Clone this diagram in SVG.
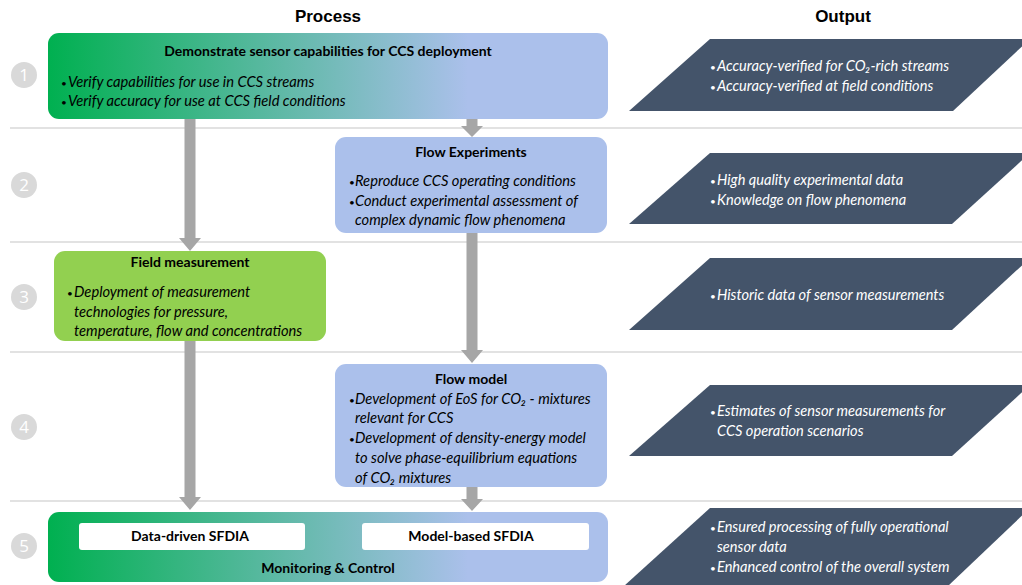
<svg xmlns="http://www.w3.org/2000/svg" width="1022" height="585" viewBox="0 0 1022 585">
<style>
.hdr{font-family:"Liberation Sans",Arial,sans-serif;font-weight:bold;font-size:17px;fill:#000;text-anchor:middle}
.ttl{font-family:Lato,"Liberation Sans",sans-serif;font-weight:bold;font-size:14px;fill:#000;text-anchor:middle}
.bl{font-family:Lato,"Liberation Sans",sans-serif;font-style:italic;font-size:14.7px;fill:#000}
.ob{font-family:Lato,"Liberation Sans",sans-serif;font-style:italic;font-size:14.6px;fill:#fff}
.dot{font-size:10px;font-style:normal}
.num{font-family:"Open Sans","Liberation Sans",sans-serif;font-size:17px;fill:#fff;text-anchor:middle}
.sep{stroke:#d9d9d9;stroke-width:1.5}
.circ{fill:#d9d9d9}
.out{fill:#44546a}
.arr{fill:#a6a6a6}
.inner{fill:#fff}
</style>
<defs>
<linearGradient id="g" x1="0" y1="0" x2="1" y2="0">
<stop offset="0" stop-color="#00b050"/>
<stop offset="0.75" stop-color="#abc0eb"/>
<stop offset="1" stop-color="#abc0eb"/>
</linearGradient>
</defs>
<rect width="1022" height="585" fill="#fff"/>
<g id="separators">
<line class="sep" x1="10" y1="128" x2="1022" y2="128"/>
<line class="sep" x1="10" y1="242" x2="1022" y2="242"/>
<line class="sep" x1="10" y1="352" x2="1022" y2="352"/>
<line class="sep" x1="10" y1="501" x2="1022" y2="501"/>
</g>
<text class="hdr" x="328" y="22">Process</text>
<text class="hdr" x="843" y="22">Output</text>
<g id="numbers">
<circle class="circ" cx="24" cy="75" r="13"/><text class="num" x="24" y="81">1</text>
<circle class="circ" cx="24" cy="185" r="13"/><text class="num" x="24" y="191">2</text>
<circle class="circ" cx="24" cy="297" r="13"/><text class="num" x="24" y="303">3</text>
<circle class="circ" cx="24" cy="427" r="13"/><text class="num" x="24" y="433">4</text>
<circle class="circ" cx="24" cy="546" r="13"/><text class="num" x="24" y="552">5</text>
</g>
<g id="connectors">
<polygon class="arr" points="184.5,119 195.5,119 195.5,238 201,238 190,251 179,238 184.5,238"/>
<polygon class="arr" points="466.5,119 477.5,119 477.5,126 483,126 472,137 461,126 466.5,126"/>
<polygon class="arr" points="466.5,233 477.5,233 477.5,350 483,350 472,363 461,350 466.5,350"/>
<polygon class="arr" points="184.5,341 195.5,341 195.5,497 201,497 190,510 179,497 184.5,497"/>
<polygon class="arr" points="466.5,487 477.5,487 477.5,499 483,499 472,511 461,499 466.5,499"/>
</g>
<g id="step1">
<rect x="48" y="33" width="560" height="86" rx="11" fill="url(#g)"/>
<text class="ttl" x="328" y="56">Demonstrate sensor capabilities for CCS deployment</text>
<text class="bl" y="87"><tspan class="dot" x="61">•</tspan><tspan x="68">Verify capabilities for use in CCS streams</tspan></text>
<text class="bl" y="106"><tspan class="dot" x="61">•</tspan><tspan x="68">Verify accuracy for use at CCS field conditions</tspan></text>
</g>
<g id="step2">
<rect x="335" y="137" width="272" height="96" rx="11" fill="#abc0eb"/>
<text class="ttl" x="471" y="157">Flow Experiments</text>
<text class="bl" y="186"><tspan class="dot" x="349">•</tspan><tspan x="355">Reproduce CCS operating conditions</tspan></text>
<text class="bl" y="206"><tspan class="dot" x="349">•</tspan><tspan x="355">Conduct experimental assessment of</tspan></text>
<text class="bl" x="355" y="225">complex dynamic flow phenomena</text>
</g>
<g id="step3">
<rect x="54" y="251" width="272" height="90" rx="11" fill="#92d050"/>
<text class="ttl" x="190" y="267">Field measurement</text>
<text class="bl" y="297"><tspan class="dot" x="67">•</tspan><tspan x="74">Deployment of measurement</tspan></text>
<text class="bl" x="74" y="317">technologies for pressure,</text>
<text class="bl" x="74" y="336">temperature, flow and concentrations</text>
</g>
<g id="step4">
<rect x="335" y="364" width="272" height="123" rx="11" fill="#abc0eb"/>
<text class="ttl" x="471" y="384">Flow model</text>
<text class="bl" y="404"><tspan class="dot" x="349">•</tspan><tspan x="355">Development of EoS for CO₂ - mixtures</tspan></text>
<text class="bl" x="355" y="423">relevant for CCS</text>
<text class="bl" y="443"><tspan class="dot" x="349">•</tspan><tspan x="355">Development of density-energy model</tspan></text>
<text class="bl" x="355" y="463">to solve phase-equilibrium equations</text>
<text class="bl" x="355" y="483">of CO₂ mixtures</text>
</g>
<g id="step5">
<rect x="48" y="512" width="560" height="70" rx="11" fill="url(#g)"/>
<rect class="inner" x="79" y="523" width="226" height="27" rx="3"/>
<rect class="inner" x="362" y="523" width="227" height="27" rx="3"/>
<text class="ttl" x="190" y="541">Data-driven SFDIA</text>
<text class="ttl" x="471" y="541">Model-based SFDIA</text>
<text class="ttl" x="328" y="573">Monitoring &amp; Control</text>
</g>
<g id="output1">
<polygon class="out" points="710,39 1030,39 953,111 629,111"/>
<text class="ob" y="71"><tspan class="dot" x="710">•</tspan><tspan x="717">Accuracy-verified for CO₂-rich streams</tspan></text>
<text class="ob" y="91"><tspan class="dot" x="710">•</tspan><tspan x="717">Accuracy-verified at field conditions</tspan></text>
</g>
<g id="output2">
<polygon class="out" points="710,153 1030,153 952,224 629,224"/>
<text class="ob" y="185"><tspan class="dot" x="710">•</tspan><tspan x="717">High quality experimental data</tspan></text>
<text class="ob" y="205"><tspan class="dot" x="710">•</tspan><tspan x="717">Knowledge on flow phenomena</tspan></text>
</g>
<g id="output3">
<polygon class="out" points="710,258 1030,258 952,330 629,330"/>
<text class="ob" y="300"><tspan class="dot" x="710">•</tspan><tspan x="717">Historic data of sensor measurements</tspan></text>
</g>
<g id="output4">
<polygon class="out" points="710,385 1030,385 952,456 629,456"/>
<text class="ob" y="416"><tspan class="dot" x="710">•</tspan><tspan x="717">Estimates of sensor measurements for</tspan></text>
<text class="ob" x="717" y="436">CCS operation scenarios</text>
</g>
<g id="output5">
<polygon class="out" points="710,508 1030,508 948,586 624,586"/>
<text class="ob" y="532"><tspan class="dot" x="710">•</tspan><tspan x="717">Ensured processing of fully operational</tspan></text>
<text class="ob" x="717" y="552">sensor data</text>
<text class="ob" y="572"><tspan class="dot" x="710">•</tspan><tspan x="717">Enhanced control of the overall system</tspan></text>
</g>
</svg>
